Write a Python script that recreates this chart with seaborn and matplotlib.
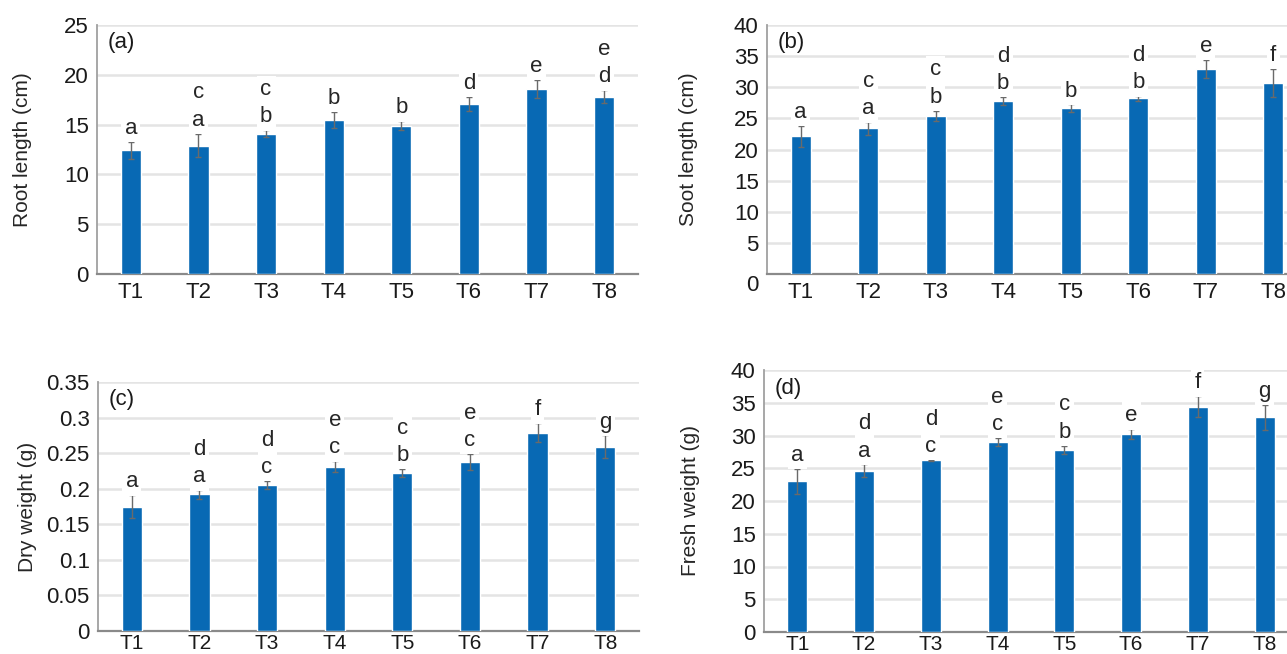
import numpy as np
import pandas as pd
import matplotlib
matplotlib.use("Agg")
import matplotlib.pyplot as plt
import matplotlib.transforms as mtransforms
import seaborn as sns

# ---- data ----
treatments = ["T1", "T2", "T3", "T4", "T5", "T6", "T7", "T8"]

root_len = [12.4, 12.9, 14.1, 15.5, 14.9, 17.1, 18.6, 17.8]
root_err = [0.9, 1.2, 0.35, 0.8, 0.45, 0.7, 0.9, 0.65]
root_sig = ["a", "c\na", "c\nb", "b", "b", "d", "e", "e\nd"]

soot_len = [22.1, 23.4, 25.4, 27.8, 26.6, 28.2, 33.0, 30.7]
soot_err = [1.7, 1.0, 0.85, 0.65, 0.65, 0.4, 1.45, 2.3]
soot_sig = ["a", "c\na", "c\nb", "d\nb", "b", "d\nb", "e", "f"]

dry_wt = [0.175, 0.192, 0.205, 0.231, 0.222, 0.238, 0.279, 0.259]
dry_err = [0.016, 0.006, 0.006, 0.008, 0.006, 0.011, 0.013, 0.016]
dry_sig = ["a", "d\na", "d\nc", "e\nc", "c\nb", "e\nc", "f", "g"]

fresh_wt = [23.0, 24.6, 26.2, 29.0, 27.8, 30.2, 34.4, 32.8]
fresh_err = [1.9, 1.0, 0.1, 0.66, 0.66, 0.77, 1.6, 1.9]
fresh_sig = ["a", "d\na", "d\nc", "e\nc", "c\nb", "e", "f", "g"]

root_ticks = [0, 5, 10, 15, 20, 25]
soot_ticks = [0, 5, 10, 15, 20, 25, 30, 35, 40]
dry_ticks = [0, 0.05, 0.1, 0.15, 0.2, 0.25, 0.3, 0.35]
fresh_ticks = [0, 5, 10, 15, 20, 25, 30, 35, 40]

sns.set_style("white")
plt.rcParams["font.family"] = ["Liberation Sans", "DejaVu Sans"]

BAR = "#0869b4"
GRID = "#e4e4e4"

fig = plt.figure(figsize=(12.87, 6.54), dpi=100)

W, H = 1287, 654
def box(l, r, t, b):
    return [l / W, (H - b) / H, (r - l) / W, (b - t) / H]

panels = [
    (box(97, 638, 25, 274), root_len, root_err, root_sig, root_ticks, "Root length (cm)", "(a)", 23),
    (box(767, 1307, 25, 274), soot_len, soot_err, soot_sig, soot_ticks, "Soot length (cm)", "(b)", 26),
    (box(98, 639, 382, 631), dry_wt, dry_err, dry_sig, dry_ticks, "Dry weight (g)", "(c)", 7),
    (box(764, 1298, 370, 632), fresh_wt, fresh_err, fresh_sig, fresh_ticks, "Fresh weight (g)", "(d)", 22),
]

axes = []
for i, (pos, vals, errs, sig, ticks, ylab, tag, lpad) in enumerate(panels):
    ax = fig.add_axes(pos)
    axes.append(ax)
    df = pd.DataFrame({"trt": treatments, "val": vals})
    sns.barplot(data=df, x="trt", y="val", color=BAR, width=0.3,
                saturation=1, errorbar=None, ax=ax, zorder=3)
    xs = [p.get_x() + p.get_width() / 2 for p in ax.patches]
    ax.errorbar(xs, vals, yerr=errs, fmt="none", ecolor="#6a6a6a",
                elinewidth=1, capsize=2, capthick=1, zorder=4)
    for x, v, e, s in zip(xs, vals, errs, sig):
        ax.annotate(s, (x, v + e), xytext=(0, 2), textcoords="offset points",
                    ha="center", va="bottom", fontsize=16, linespacing=1.4,
                    zorder=5, bbox=dict(boxstyle="square,pad=0.15", fc="white", ec="none"))
    ax.set_xlim(-0.5, 7.5)
    ax.set_ylim(ticks[0], ticks[-1])
    ax.set_yticks(ticks)
    ax.set_yticklabels(["%g" % t for t in ticks])
    ax.yaxis.grid(True, color=GRID, lw=1.8, zorder=0)
    ax.set_axisbelow(True)
    ax.set_xlabel("")
    ax.set_ylabel(ylab, fontsize=15, labelpad=lpad)
    ax.tick_params(axis="both", length=0, labelsize=16, colors="#1a1a1a")
    ax.tick_params(axis="y", pad=6)
    ax.tick_params(axis="x", pad=6 if i < 2 else 2, labelsize=16 if i < 2 else 15)
    for sp in ["top", "right"]:
        ax.spines[sp].set_visible(False)
    ax.spines["left"].set_color("#a0a0a0")
    ax.spines["left"].set_linewidth(1.3)
    ax.spines["bottom"].set_color("#8a8a8a")
    ax.spines["bottom"].set_linewidth(1.6)
    ax.text(0.02, 0.93, tag, transform=ax.transAxes, fontsize=16,
            va="center", ha="left", color="#1a1a1a",
            bbox=dict(boxstyle="square,pad=0.1", fc="white", ec="none"), zorder=5)

# panel (b): the "0" label sits a little below the axis line in the original
lab0 = axes[1].get_yticklabels()[0]
lab0.set_transform(lab0.get_transform() + mtransforms.ScaledTranslation(0, -9 / 100, fig.dpi_scale_trans))

fig.savefig("out.png", dpi=100)
